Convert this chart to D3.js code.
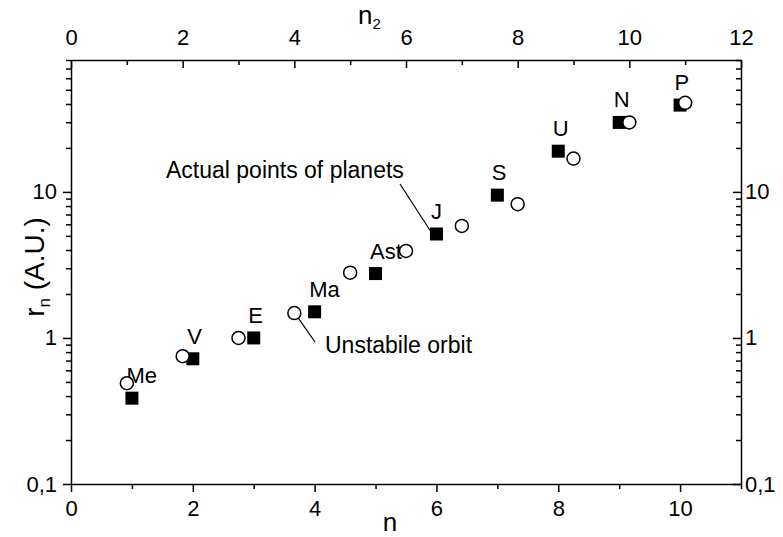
<!DOCTYPE html>
<html>
<head>
<meta charset="utf-8">
<script src="https://cdn.jsdelivr.net/npm/d3@7"></script>
<style>
  body { margin: 0; background: #fff; }
  svg text { font-family: "Liberation Sans", Arial, sans-serif; fill: #000; }
  .axis path, .axis line { stroke: #000; stroke-width: 1.5; }
  .axis text { font-size: 22px; }
</style>
</head>
<body>
<div id="plot"></div>
<script>
// planets (filled squares), bottom axis n
const planetNames = ['Me', 'V', 'E', 'Ma', 'Ast', 'J', 'S', 'U', 'N', 'P'];
const planetN = [1, 2, 3, 4, 5, 6, 7, 8, 9, 10];
const planetR = [0.387, 0.72, 1.0, 1.51, 2.76, 5.15, 9.5, 19.0, 29.9, 39.3];

// model points (open circles), top axis n2
const modelN2 = [1, 2, 3, 4, 5, 6, 7, 8, 9, 10, 11];
const modelR = [0.49, 0.75, 1.0, 1.48, 2.8, 3.94, 5.85, 8.24, 16.9, 29.9, 40.7];

const yMajor = [0.1, 1, 10];
const yMajorLabels = ['0,1', '1', '10'];
const xMajor = [0, 2, 4, 6, 8, 10];
const xMinor = [1, 3, 5, 7, 9, 11];
const x2Major = [0, 2, 4, 6, 8, 10, 12];
const x2Minor = [1, 3, 5, 7, 9, 11];

const W = 783, H = 537;
const margin = { top: 60, right: 42, bottom: 53, left: 71 };

const svg = d3.select('#plot').append('svg')
  .attr('width', W).attr('height', H);

var x = d3.scaleLinear().domain([0, 11]).range([margin.left, W - margin.right]);
var x2 = d3.scaleLinear().domain([0, 12]).range([margin.left, W - margin.right]);
var y = d3.scaleLog().domain([0.1, 80]).range([H - margin.bottom, margin.top]);

// minor log ticks 2..9 in each decade
var yMinor = [];
[0.1, 1, 10].forEach(function(d) {
  for (var k = 2; k <= 9; k++) {
    var v = d * k;
    if (v <= 80) yMinor.push(v);
  }
});

var fmtY = function(d) { return yMajorLabels[yMajor.indexOf(d)]; };

/* axes: bottom & left out, top & right in */
var addAxis = function(axisFn, scale, major, minor, size, transform, labelFn, pad) {
  svg.append('g').attr('class', 'axis').attr('transform', transform)
    .call(axisFn(scale).tickValues(minor).tickSize(size[1]).tickFormat(''))
    .call(function(g) { g.select('.domain').remove(); });
  svg.append('g').attr('class', 'axis').attr('transform', transform)
    .call(axisFn(scale).tickValues(major).tickSize(size[0]).tickSizeOuter(0)
      .tickPadding(pad).tickFormat(labelFn));
};

addAxis(d3.axisBottom, x, xMajor, xMinor, [8, 5],
  'translate(0,' + (H - margin.bottom) + ')', d3.format('d'), 8);
addAxis(d3.axisLeft, y, yMajor, yMinor, [8, 5],
  'translate(' + margin.left + ',0)', fmtY, 6);

// top axis: ticks pointing into the plot
svg.append('g').attr('class', 'axis').attr('transform', 'translate(0,' + margin.top + ')')
  .call(d3.axisTop(x2).tickValues(x2Minor).tickSize(-5).tickFormat(''))
  .call(function(g) { g.select('.domain').remove(); });
svg.append('g').attr('class', 'axis').attr('transform', 'translate(0,' + margin.top + ')')
  .call(d3.axisTop(x2).tickValues(x2Major).tickSize(-8).tickSizeOuter(0).tickFormat(d3.format('d')))
  .call(function(g) { g.selectAll('text').attr('y', -15); });

// right axis: ticks pointing into the plot
svg.append('g').attr('class', 'axis').attr('transform', 'translate(' + (W - margin.right) + ',0)')
  .call(d3.axisRight(y).tickValues(yMinor).tickSize(-5).tickFormat(''))
  .call(function(g) { g.select('.domain').remove(); });
svg.append('g').attr('class', 'axis').attr('transform', 'translate(' + (W - margin.right) + ',0)')
  .call(d3.axisRight(y).tickValues(yMajor).tickSize(-8).tickSizeOuter(0).tickFormat(fmtY))
  .call(function(g) { g.selectAll('text').attr('x', 4); });

/* axis titles */
svg.append('text').attr('x', 390).attr('y', 531)
  .attr('text-anchor', 'middle').style('font-size', '26px').text('n');

var t2 = svg.append('text').attr('x', 358).attr('y', 24).style('font-size', '26px');
t2.append('tspan').text('n');
t2.append('tspan').attr('dy', 5).style('font-size', '15px').text('2');

var ty = svg.append('text')
  .attr('transform', 'translate(44,267) rotate(-90)')
  .attr('text-anchor', 'middle').style('font-size', '28px');
ty.append('tspan').text('r');
ty.append('tspan').attr('dy', 6).style('font-size', '17px').text('n');
ty.append('tspan').attr('dy', -6).text(' (A.U.)');

/* data */
var planets = planetN.map(function(n, i) { return { n: n, r: planetR[i], name: planetNames[i] }; });
var model = modelN2.map(function(n, i) { return { n: n, r: modelR[i] }; });
var S = 13;

svg.append('g').selectAll('rect')
  .data(planets).enter().append('rect')
  .attr('x', function(d) { return x(d.n) - S / 2; })
  .attr('y', function(d) { return y(d.r) - S / 2; })
  .attr('width', S).attr('height', S)
  .attr('fill', '#000');

svg.append('g').selectAll('text')
  .data(planets).enter().append('text')
  .attr('x', function(d) { return x(d.n) - 5.5; })
  .attr('y', function(d) { return y(d.r) - 15; })
  .style('font-size', '22px')
  .text(function(d) { return d.name; });

svg.append('g').selectAll('circle')
  .data(model).enter().append('circle')
  .attr('cx', function(d) { return x2(d.n); })
  .attr('cy', function(d) { return y(d.r); })
  .attr('r', 6.5)
  .attr('fill', '#fff').attr('stroke', '#000').attr('stroke-width', 1.5);

/* annotations */
var jup = planets[5];
svg.append('line')
  .attr('x1', 400).attr('y1', 184)
  .attr('x2', x(jup.n) - 6).attr('y2', y(jup.r) - 3)
  .attr('stroke', '#000').attr('stroke-width', 1.2);
svg.append('text').attr('x', 166).attr('y', 178)
  .style('font-size', '23px').text('Actual points of planets');

var unst = model[3];
svg.append('line')
  .attr('x1', x2(unst.n) + 4).attr('y1', y(unst.r) + 5)
  .attr('x2', 315).attr('y2', 342)
  .attr('stroke', '#000').attr('stroke-width', 1.2);
svg.append('text').attr('x', 325).attr('y', 353)
  .style('font-size', '23px').text('Unstabile orbit');
</script>
</body>
</html>
